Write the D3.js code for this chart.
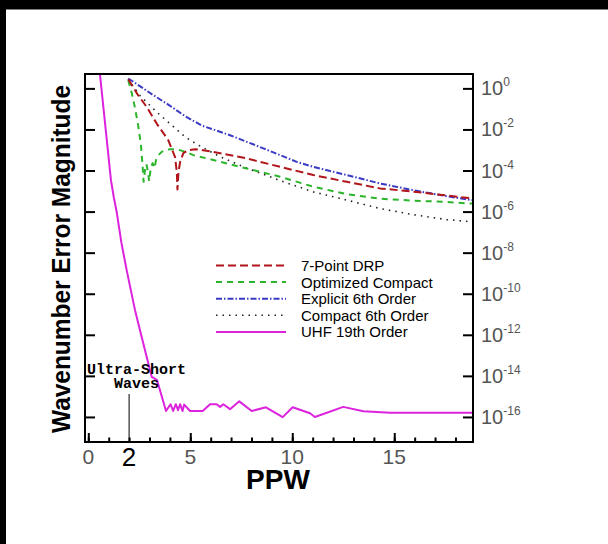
<!DOCTYPE html>
<html lang="en">
<head>
    <meta charset="UTF-8">
    <title>Wavenumber Error Magnitude</title>
    <script src="https://d3js.org/d3.v7.min.js"></script>
    <style>
        html, body { margin: 0; padding: 0; background: #fff; }
        svg { display: block; }
    </style>
</head>
<body>
    <svg id="chart" width="608" height="544"></svg>
    <script>
        // values; error values stored as log10 exponents
        const drpX   = [1.96, 2.44, 2.86, 3.37, 3.92, 4.25, 4.34, 4.37, 4.42, 4.50, 4.66, 4.89, 5.23, 5.62, 6.13, 7.76, 9.40, 11.03, 12.67, 14.30, 15.93, 17.08, 18.81];
        const drpLog = [0.44, -0.33, -0.90, -1.74, -2.52, -3.33, -4.08, -4.92, -4.08, -3.59, -3.15, -3.01, -2.96, -3.01, -3.09, -3.41, -3.82, -4.22, -4.55, -4.87, -5.03, -5.16, -5.36];

        const optX   = [1.96, 2.13, 2.29, 2.45, 2.58, 2.66, 2.71, 2.78, 2.85, 2.93, 2.98, 3.05, 3.15, 3.25, 3.32, 3.44, 3.61, 4.00, 4.40, 4.79, 5.15, 6.13, 7.76, 9.40, 11.03, 12.67, 14.30, 15.93, 17.32, 18.81];
        const optLog = [0.40, -0.23, -0.96, -1.84, -2.76, -3.74, -4.55, -3.98, -3.69, -4.08, -4.52, -3.98, -3.64, -3.88, -3.49, -3.25, -3.08, -2.96, -2.98, -3.10, -3.25, -3.49, -3.90, -4.30, -4.79, -5.15, -5.37, -5.47, -5.52, -5.61];

        const expX   = [1.96, 2.21, 3.11, 3.92, 4.74, 5.56, 6.95, 8.58, 10.22, 11.03, 12.67, 14.30, 15.93, 17.57, 18.81];
        const expLog = [0.48, 0.32, -0.28, -0.79, -1.35, -1.81, -2.28, -2.92, -3.58, -3.82, -4.22, -4.63, -4.96, -5.25, -5.44];

        const cmpX   = [1.96, 2.53, 3.35, 4.09, 4.74, 5.39, 6.46, 7.76, 9.40, 11.03, 12.67, 14.30, 15.93, 17.57, 18.81];
        const cmpLog = [0.45, -0.35, -1.15, -1.79, -2.36, -2.76, -3.33, -3.88, -4.49, -5.04, -5.44, -5.85, -6.15, -6.39, -6.50];

        const uhfX   = [0.45, 0.57, 1.11, 1.25, 1.39, 1.62, 1.88, 2.29, 2.78, 3.11, 3.37, 3.81, 4.03, 4.16, 4.29, 4.40, 4.50, 4.62, 4.70, 4.99, 5.61, 5.97, 6.29, 6.46, 6.62, 6.95, 7.40, 8.01, 8.71, 9.53, 10.02, 10.87, 11.11, 12.50, 13.48, 14.79, 18.81];
        const uhfLog = [1.30, 0.70, -4.47, -5.30, -6.01, -7.50, -8.85, -10.80, -12.75, -14.05, -14.21, -15.71, -15.38, -15.71, -15.38, -15.67, -15.38, -15.71, -15.40, -15.71, -15.71, -15.38, -15.38, -15.51, -15.38, -15.62, -15.24, -15.71, -15.53, -16.01, -15.53, -15.82, -16.00, -15.51, -15.72, -15.80, -15.80];

        const seriesNames = ['7-Point DRP', 'Optimized Compact', 'Explicit 6th Order', 'Compact 6th Order', 'UHF 19th Order'];
        const xTickLabels = [0, 5, 10, 15];
        const yTickExponents = [0, -2, -4, -6, -8, -10, -12, -14, -16];

        const series = [
            { name: seriesNames[0], x: drpX, e: drpLog, color: '#b0161b', dash: '8,4', width: 2 },
            { name: seriesNames[1], x: optX, e: optLog, color: '#2cb52c', dash: '6,5', width: 2 },
            { name: seriesNames[2], x: expX, e: expLog, color: '#3a3ac4', dash: '6,2,1.5,2', width: 2 },
            { name: seriesNames[3], x: cmpX, e: cmpLog, color: '#222', dash: '1.5,5', width: 1.6 },
            { name: seriesNames[4], x: uhfX, e: uhfLog, color: '#dd22dd', dash: null, width: 2 }
        ];

        const plotLeft = 85, plotRight = 473, plotTop = 74, plotBottom = 442;
        const svg = d3.select('#chart');

        // screen border seen in the picture
        svg.append('rect').attr('x', 0).attr('y', 0).attr('width', 608).attr('height', 9.5).attr('fill', '#000');
        svg.append('rect').attr('x', 0).attr('y', 0).attr('width', 6).attr('height', 544).attr('fill', '#000');

        const x = d3.scaleLinear().domain([-0.162, 18.86]).range([plotLeft, plotRight]);
        const y = d3.scaleLog().domain([Math.pow(10, 0.7), Math.pow(10, -17.22)]).range([plotTop, plotBottom]);

        svg.append('defs').append('clipPath').attr('id', 'plotClip')
            .append('rect').attr('x', plotLeft).attr('y', plotTop)
            .attr('width', plotRight - plotLeft).attr('height', plotBottom - plotTop);

        const line = d3.line()
            .x(d => x(d[0]))
            .y(d => y(Math.pow(10, d[1])));

        const plot = svg.append('g').attr('clip-path', 'url(#plotClip)');
        // draw magenta first so the others sit on top
        [4, 3, 2, 1, 0].forEach(i => {
            const s = series[i];
            plot.append('path')
                .datum(s.x.map((v, j) => [v, s.e[j]]))
                .attr('d', line)
                .attr('fill', 'none')
                .attr('stroke', s.color)
                .attr('stroke-width', s.width)
                .attr('stroke-dasharray', s.dash)
                .attr('stroke-linejoin', 'round');
        });

        // axes
        const yTicks = yTickExponents.map(e => Math.pow(10, e));
        svg.append('g').attr('transform', `translate(${plotLeft},0)`)
            .call(d3.axisRight(y).tickValues(yTicks).tickSize(10).tickFormat(''));
        svg.append('g').attr('transform', `translate(${plotRight},0)`)
            .call(d3.axisLeft(y).tickValues(yTicks).tickSize(10).tickFormat(''));
        svg.append('g').attr('transform', `translate(0,${plotBottom})`)
            .call(d3.axisTop(x).tickValues(d3.range(0, 19)).tickSize(4.5).tickFormat(''));
        svg.append('g').attr('transform', `translate(0,${plotBottom})`)
            .call(d3.axisTop(x).tickValues(xTickLabels).tickSize(9).tickFormat(''));
        svg.selectAll('.domain').remove();
        svg.selectAll('.tick line').attr('stroke', '#000').attr('stroke-width', 2);

        // frame
        svg.append('rect').attr('x', plotLeft).attr('y', plotTop)
            .attr('width', plotRight - plotLeft).attr('height', plotBottom - plotTop)
            .attr('fill', 'none').attr('stroke', '#000').attr('stroke-width', 2);

        // y tick labels on the right
        const yLab = svg.append('g').attr('font-family', 'Liberation Sans, Arial, sans-serif').attr('fill', '#555');
        yTickExponents.forEach(e => {
            const t = yLab.append('text').attr('x', plotRight + 8).attr('y', y(Math.pow(10, e)) + 7).attr('font-size', 20);
            t.append('tspan').text('10');
            t.append('tspan').attr('font-size', 12).attr('dy', -9).text(e);
        });

        // x tick labels
        svg.append('g').selectAll('text').data(xTickLabels).join('text')
            .attr('x', d => x(d)).attr('y', 464)
            .attr('text-anchor', 'middle')
            .attr('font-family', 'Liberation Sans, Arial, sans-serif')
            .attr('font-size', 21).attr('fill', '#555')
            .text(d => d);
        svg.append('text').attr('x', x(2)).attr('y', 466)
            .attr('text-anchor', 'middle')
            .attr('font-family', 'Liberation Sans, Arial, sans-serif')
            .attr('font-size', 26).attr('fill', '#000')
            .text('2');

        // axis titles
        svg.append('text').attr('x', 278).attr('y', 489)
            .attr('text-anchor', 'middle')
            .attr('font-family', 'Liberation Sans, Arial, sans-serif')
            .attr('font-size', 28).attr('font-weight', 'bold')
            .text('PPW');
        svg.append('text')
            .attr('transform', 'translate(70,259) rotate(-90)')
            .attr('text-anchor', 'middle')
            .attr('font-family', 'Liberation Sans, Arial, sans-serif')
            .attr('font-size', 26).attr('font-weight', 'bold')
            .attr('textLength', 348).attr('lengthAdjust', 'spacingAndGlyphs')
            .text('Wavenumber Error Magnitude');

        // ultra-short waves note
        svg.append('line').attr('x1', x(2)).attr('x2', x(2)).attr('y1', 394).attr('y2', plotBottom)
            .attr('stroke', '#000').attr('stroke-width', 1);
        const note = svg.append('g').attr('font-family', 'Liberation Mono, Courier New, monospace')
            .attr('font-size', 15).attr('font-weight', 'bold').attr('text-anchor', 'middle');
        note.append('text').attr('x', 136.5).attr('y', 373.5).text('Ultra-Short');
        note.append('text').attr('x', 136.5).attr('y', 387.5).text('Waves');

        // legend
        const legend = svg.append('g').attr('font-family', 'Liberation Sans, Arial, sans-serif').attr('font-size', 15);
        series.forEach((s, i) => {
            const by = 271 + i * 16.6;
            legend.append('line').attr('x1', 216).attr('x2', 286).attr('y1', by - 5.5).attr('y2', by - 5.5)
                .attr('stroke', s.color).attr('stroke-width', s.width).attr('stroke-dasharray', s.dash);
            legend.append('text').attr('x', 301).attr('y', by).text(s.name);
        });
    </script>
</body>
</html>
